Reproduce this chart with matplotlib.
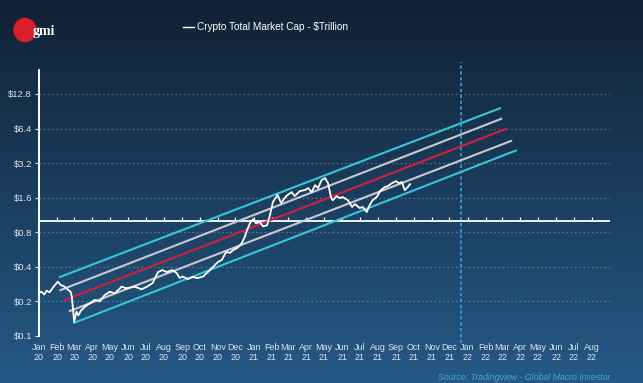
import matplotlib

matplotlib.use("Agg")
import matplotlib.dates as mdates
import matplotlib.pyplot as plt
import matplotlib.transforms as mtransforms
import numpy as np
import pandas as pd
from matplotlib.lines import Line2D
from matplotlib.patches import Ellipse

# --- data ---
price_dates = [
    "2020-01-01", "2020-01-05", "2020-01-10", "2020-01-14", "2020-01-19", "2020-01-25",
    "2020-02-02", "2020-02-07", "2020-02-13", "2020-02-20", "2020-02-24", "2020-02-26",
    "2020-03-01", "2020-03-05", "2020-03-08", "2020-03-13", "2020-03-19", "2020-03-28",
    "2020-04-05", "2020-04-14", "2020-04-22", "2020-05-01", "2020-05-09", "2020-05-21",
    "2020-05-29", "2020-06-12", "2020-06-24", "2020-07-05", "2020-07-13", "2020-07-22",
    "2020-07-29", "2020-08-06", "2020-08-15", "2020-08-23", "2020-08-28", "2020-09-02",
    "2020-09-11", "2020-09-19", "2020-09-28", "2020-10-07", "2020-10-15", "2020-10-24",
    "2020-11-01", "2020-11-08", "2020-11-15", "2020-11-22", "2020-11-27", "2020-12-04",
    "2020-12-12", "2020-12-17", "2020-12-21", "2020-12-26", "2020-12-31", "2021-01-05",
    "2021-01-12", "2021-01-17", "2021-01-24", "2021-01-29", "2021-02-03", "2021-02-11",
    "2021-02-17", "2021-02-23", "2021-02-28", "2021-03-07", "2021-03-12", "2021-03-21",
    "2021-03-29", "2021-04-04", "2021-04-10", "2021-04-16", "2021-04-21", "2021-04-27",
    "2021-05-03", "2021-05-08", "2021-05-13", "2021-05-16", "2021-05-23", "2021-05-28",
    "2021-06-02", "2021-06-11", "2021-06-18", "2021-06-23", "2021-07-01", "2021-07-06",
    "2021-07-13", "2021-07-18", "2021-07-23", "2021-07-30", "2021-08-06", "2021-08-13",
    "2021-08-18", "2021-08-25", "2021-09-01", "2021-09-06", "2021-09-11", "2021-09-16",
    "2021-09-21", "2021-09-25",
]
price_values = [
    0.237, 0.243, 0.230, 0.248, 0.240, 0.265,
    0.297, 0.278, 0.270, 0.251, 0.243, 0.220,
    0.133, 0.163, 0.151, 0.168, 0.179, 0.193,
    0.206, 0.200, 0.227, 0.243, 0.235, 0.269,
    0.260, 0.269, 0.255, 0.272, 0.290, 0.360,
    0.375, 0.360, 0.375, 0.353, 0.320, 0.330,
    0.313, 0.326, 0.320, 0.330, 0.360, 0.400,
    0.440, 0.460, 0.538, 0.530, 0.560, 0.583,
    0.644, 0.730, 0.836, 0.962, 1.040, 0.960,
    0.980, 0.900, 0.920, 1.130, 1.470, 1.690,
    1.440, 1.590, 1.690, 1.790, 1.650, 1.830,
    1.860, 1.940, 1.790, 2.060, 1.940, 2.280,
    2.370, 2.140, 1.620, 1.520, 1.650, 1.590,
    1.620, 1.520, 1.330, 1.410, 1.300, 1.330,
    1.200, 1.380, 1.520, 1.620, 1.860, 1.980,
    2.020, 2.140, 2.230, 2.140, 2.190, 1.860,
    1.980, 2.100,
]

# regression channel: upper band, upper dev, mean, lower dev, lower band
channel_start_dates = ["2020-02-04", "2020-02-05", "2020-02-12", "2020-02-21", "2020-02-28"]
channel_start_values = [0.324, 0.249, 0.204, 0.164, 0.129]
channel_end_dates = ["2022-02-27", "2022-03-01", "2022-03-09", "2022-03-18", "2022-03-26"]
channel_end_values = [9.69, 7.83, 6.40, 5.03, 4.15]
channel_colors = ["#35c6d8", "#c9c9d2", "#d21f3c", "#c9c9d2", "#35c6d8"]

y_ticks = [0.1, 0.2, 0.4, 0.8, 1.6, 3.2, 6.4, 12.8]
y_tick_labels = ["$0.1", "$0.2", "$0.4", "$0.8", "$1.6", "$3.2", "$6.4", "$12.8"]
marker_date = "2021-12-21"
baseline_value = 1.0

TEXT_COLOR = "#dfe5ec"
GRID_COLOR = "#8d9db0"
FONT = ["Liberation Sans Narrow", "Liberation Sans", "DejaVu Sans"]

plt.rcParams["font.family"] = FONT

fig = plt.figure(figsize=(6.43, 3.83), dpi=100)

# background gradient
bg = fig.add_axes([0, 0, 1, 1], zorder=-10)
top = np.array([17, 33, 52]) / 255
bottom = np.array([37, 89, 134]) / 255
t = np.linspace(0, 1, 256)[:, None, None]
grad = top * (1 - t) + bottom * t
bg.imshow(np.repeat(grad, 2, axis=1), aspect="auto", extent=[0, 1, 0, 1])
bg.set_axis_off()

W, H = 643, 383
ax = fig.add_axes([39 / W, 1 - 336 / H, (610 - 39) / W, (336 - 70) / H])
ax.set_facecolor("none")
ax.set_yscale("log", base=2)
ax.set_ylim(0.1, 20.7)
ax.set_xlim(mdates.datestr2num("2020-01-01"), mdates.datestr2num("2022-09-01"))

ax.set_yticks(y_ticks)
ax.set_yticklabels(y_tick_labels)
ax.yaxis.set_minor_locator(matplotlib.ticker.NullLocator())
ax.tick_params(axis="y", colors=TEXT_COLOR, labelsize=6.8, length=3, width=0.8, pad=2)

months = pd.date_range("2020-01-01", "2022-08-01", freq="MS")
ax.set_xticks(mdates.date2num(months))
ax.xaxis.set_major_formatter(mdates.DateFormatter("%b\n%y"))
ax.tick_params(axis="x", colors=TEXT_COLOR, labelsize=6.4, length=0, pad=5)
for lbl in ax.get_xticklabels():
    lbl.set_linespacing(1.1)

for side in ["top", "right", "bottom"]:
    ax.spines[side].set_visible(False)
ax.spines["left"].set_color("white")
ax.spines["left"].set_linewidth(1.4)

ax.yaxis.grid(True, linestyle=(0, (1.2, 2.2)), color=GRID_COLOR, alpha=0.6, linewidth=0.9)

# $1 baseline with month ticks
ax.axhline(baseline_value, color="white", linewidth=1.3, zorder=3)
ax.plot(mdates.date2num(months[1:]), [baseline_value] * len(months[1:]), linestyle="none",
        marker=2, markersize=3, markeredgewidth=0.9, color="white", zorder=3)

# channel
for sd, sv, ed, ev, c in zip(channel_start_dates, channel_start_values, channel_end_dates,
                             channel_end_values, channel_colors):
    ax.plot(mdates.datestr2num([sd, ed]), [sv, ev], color=c, linewidth=1.5, zorder=4,
            solid_capstyle="butt")

# price
ax.plot(mdates.datestr2num(price_dates), price_values, color="white", linewidth=1.3, zorder=5)

# dashed marker
trans = mtransforms.blended_transform_factory(ax.transData, ax.transAxes)
md = mdates.datestr2num(marker_date)
ax.plot([md, md], [-0.025, 1.03], transform=trans, clip_on=False, color="#3d9fe2",
        linewidth=1.2, linestyle=(0, (2, 1.5)), zorder=2)

# title with legend line
fig.add_artist(Line2D([183 / W, 194 / W], [1 - 27 / H, 1 - 27 / H], color="white", linewidth=1.0))
fig.text(197 / W, 1 - 27 / H, "Crypto Total Market Cap - $Trillion", color="white", fontsize=7.2,
         va="center", ha="left")

# logo
fig.add_artist(Ellipse((25 / W, 1 - 30 / H), 22 / W, 23 / H, color="#d81f2a"))
fig.text(44 / W, 1 - 31 / H, "gmi", color="white", fontsize=10, fontweight="bold",
         family="Liberation Serif", ha="center", va="center")

fig.text(610 / W, 1 - 378 / H, "Source: Tradingview - Global Macro Investor", color="#4aa3dd",
         fontsize=6.3, style="italic", ha="right", va="center")

fig.savefig("out.png", dpi=100)
